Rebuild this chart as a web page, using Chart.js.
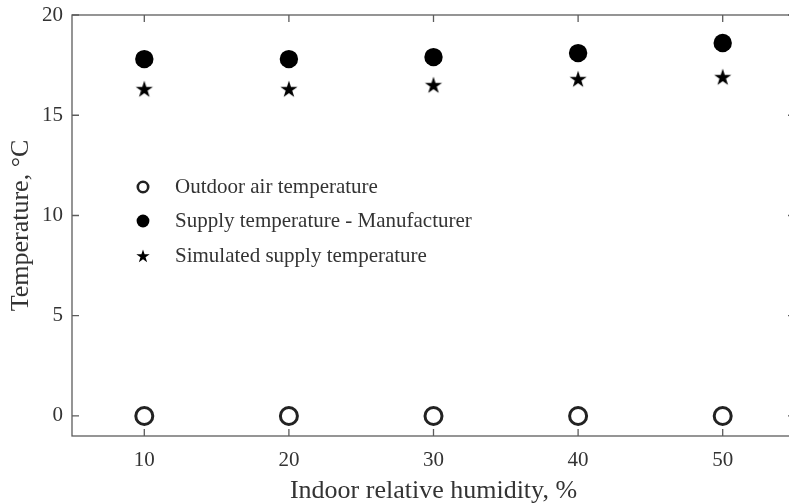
<!DOCTYPE html>
<html>
<head>
<meta charset="utf-8">
<script src="https://cdn.jsdelivr.net/npm/chart.js@4/dist/chart.umd.min.js"></script>
<style>
  html, body { margin: 0; padding: 0; background: #fff; overflow: hidden; }
  #wrap { width: 800px; height: 504px; }
</style>
</head>
<body>
<div id="wrap"><canvas id="c" width="800" height="504"></canvas></div>
<script>
// Indoor relative humidity, %
const humidity = [10, 20, 30, 40, 50];
// Temperatures, °C
const outdoorTemp = [0, 0, 0, 0, 0];
const supplyManufacturer = [17.8, 17.8, 17.9, 18.1, 18.6];
const supplySimulated = [16.3, 16.3, 16.5, 16.8, 16.9];
// Tick labels
const xTicks = [10, 20, 30, 40, 50];
const yTicks = [0, 5, 10, 15, 20];
const seriesNames = ['Outdoor air temperature', 'Supply temperature - Manufacturer', 'Simulated supply temperature'];

const FONT = '"Liberation Serif", "DejaVu Serif", serif';
const TEXT = '#333333';
const AXIS = '#5c5c5c';

function starPath(ctx, cx, cy, R) {
  const r = R * 0.382;
  ctx.beginPath();
  for (let i = 0; i < 10; i++) {
    const rad = i % 2 === 0 ? R : r;
    const a = -Math.PI / 2 + i * Math.PI / 5;
    const px = cx + rad * Math.cos(a), py = cy + rad * Math.sin(a);
    if (i === 0) ctx.moveTo(px, py); else ctx.lineTo(px, py);
  }
  ctx.closePath();
}

function makeStar(R) {
  const s = Math.ceil(2 * R + 2);
  const cv = document.createElement('canvas');
  cv.width = s; cv.height = s;
  const g = cv.getContext('2d');
  g.fillStyle = '#000';
  starPath(g, s / 2, s / 2 + R * 0.05, R);
  g.fill();
  return cv;
}

const pairs = ys => humidity.map((h, i) => ({ x: h, y: ys[i] }));

// Fixed scale sizes, no extra room reserved for edge labels
function fixX(s) { s.height = 68; s.paddingLeft = 0; s.paddingRight = 0; }
function fixY(s) { s.width = 72; s.paddingTop = 0; s.paddingBottom = 0; }

// Box around the plot area with inward tick marks on all four sides
const frame = {
  id: 'frame',
  beforeDatasetsDraw(chart) {
    const { ctx, chartArea: a, scales: { x, y } } = chart;
    const L = 7;
    ctx.save();
    ctx.strokeStyle = AXIS;
    ctx.lineWidth = 1.3;
    ctx.strokeRect(a.left, a.top, a.right - a.left, a.bottom - a.top);
    ctx.beginPath();
    xTicks.forEach(v => {
      const px = x.getPixelForValue(v);
      ctx.moveTo(px, a.bottom); ctx.lineTo(px, a.bottom - L);
      ctx.moveTo(px, a.top); ctx.lineTo(px, a.top + L);
    });
    yTicks.forEach(v => {
      const py = y.getPixelForValue(v);
      ctx.moveTo(a.left, py); ctx.lineTo(a.left + L, py);
      ctx.moveTo(a.right, py); ctx.lineTo(a.right - L, py);
    });
    ctx.stroke();
    ctx.restore();
  }
};

// Legend drawn inside the plot area
const innerLegend = {
  id: 'innerLegend',
  afterDraw(chart) {
    const { ctx } = chart;
    const mx = 143, tx = 175, rows = [187, 221, 256];
    ctx.save();
    ctx.font = '21px ' + FONT;
    ctx.textBaseline = 'middle';
    ctx.textAlign = 'left';
    chart.data.datasets.forEach((ds, i) => {
      const yy = rows[i];
      ctx.fillStyle = TEXT;
      ctx.fillText(ds.label, tx, yy);
      ctx.fillStyle = '#000';
      if (i === 0) {
        ctx.beginPath();
        ctx.arc(mx, yy, 5.2, 0, Math.PI * 2);
        ctx.lineWidth = 2.6;
        ctx.strokeStyle = '#222';
        ctx.stroke();
      } else if (i === 1) {
        ctx.beginPath();
        ctx.arc(mx, yy, 6.4, 0, Math.PI * 2);
        ctx.fill();
      } else {
        starPath(ctx, mx, yy + 0.5, 7);
        ctx.fill();
      }
    });
    ctx.restore();
  }
};

new Chart(document.getElementById('c'), {
  type: 'scatter',
  data: {
    datasets: [
      {
        label: seriesNames[0],
        data: pairs(outdoorTemp),
        pointStyle: 'circle',
        pointRadius: 8.5,
        pointBorderWidth: 3,
        pointBorderColor: '#222',
        pointBackgroundColor: 'rgba(0,0,0,0)',
        clip: false
      },
      {
        label: seriesNames[1],
        data: pairs(supplyManufacturer),
        pointStyle: 'circle',
        pointRadius: 9.2,
        pointBorderWidth: 0,
        pointBackgroundColor: '#000',
        pointBorderColor: '#000',
        clip: false
      },
      {
        label: seriesNames[2],
        data: pairs(supplySimulated),
        pointStyle: makeStar(9),
        pointRadius: 9,
        clip: false
      }
    ]
  },
  options: {
    responsive: false,
    animation: false,
    events: [],
    layout: { autoPadding: false, padding: { top: 15, right: 5, left: 0, bottom: 0 } },
    plugins: { legend: { display: false }, tooltip: { enabled: false } },
    scales: {
      x: {
        type: 'linear',
        min: 5, max: 55,
        afterBuildTicks: s => { s.ticks = xTicks.map(v => ({ value: v })); },
        afterFit: fixX,
        grid: { display: false, drawTicks: false },
        border: { display: false },
        ticks: { color: TEXT, font: { family: FONT, size: 21 }, padding: 12, maxRotation: 0 },
        title: {
          display: true,
          text: 'Indoor relative humidity, %',
          color: TEXT,
          font: { family: FONT, size: 26, lineHeight: 1 },
          padding: { top: 0, bottom: 0 }
        }
      },
      y: {
        type: 'linear',
        min: -1, max: 20,
        afterBuildTicks: s => { s.ticks = yTicks.map(v => ({ value: v })); },
        afterFit: fixY,
        grid: { display: false, drawTicks: false },
        border: { display: false },
        ticks: { color: TEXT, font: { family: FONT, size: 21 }, padding: 9 },
        title: {
          display: true,
          text: 'Temperature, °C',
          color: TEXT,
          font: { family: FONT, size: 26 },
          padding: { top: 6, bottom: 0 }
        }
      }
    }
  },
  plugins: [frame, innerLegend]
});
</script>
</body>
</html>
